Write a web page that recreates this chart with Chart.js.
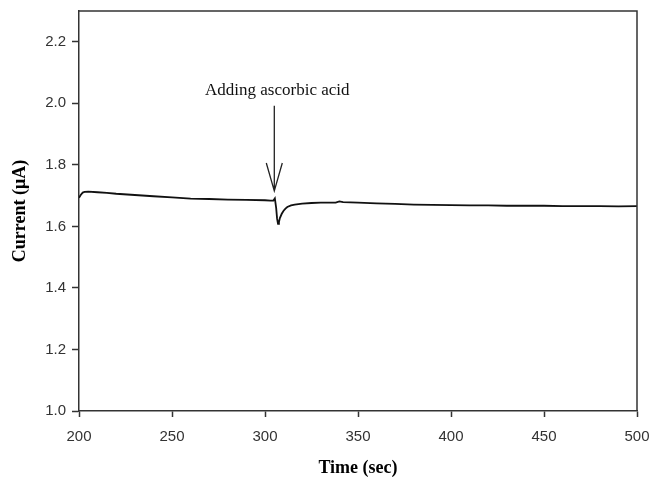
<!DOCTYPE html>
<html>
<head>
<meta charset="utf-8">
<script src="https://cdn.jsdelivr.net/npm/chart.js@4/dist/chart.umd.min.js"></script>
<style>
  html, body { margin: 0; padding: 0; background: #fff; }
  #wrap { width: 649px; height: 477px; position: relative; }
</style>
</head>
<body>
<div id="wrap"><canvas id="c" width="649" height="477"></canvas></div>
<script>
// ---- data ----
const timeSec = [200, 201, 202, 203, 205, 210, 215, 220, 230, 240, 250, 260, 270, 280, 290, 300, 303, 304.5,
  305.3, 306, 306.5, 307, 307.5, 308, 309, 310, 311, 312, 314, 316, 320, 325, 330, 335, 338, 340, 342,
  350, 360, 370, 380, 390, 400, 410, 420, 430, 440, 450, 460, 470, 480, 490, 500];
const currentUA = [1.693, 1.703, 1.710, 1.712, 1.713, 1.711, 1.709, 1.706, 1.702, 1.698, 1.694, 1.690, 1.689, 1.687, 1.686, 1.685, 1.684, 1.684,
  1.691, 1.660, 1.625, 1.608, 1.614, 1.627, 1.641, 1.651, 1.658, 1.663, 1.668, 1.671, 1.674, 1.676, 1.677, 1.677, 1.677, 1.681, 1.679,
  1.677, 1.675, 1.673, 1.671, 1.670, 1.669, 1.668, 1.668, 1.667, 1.667, 1.667, 1.666, 1.666, 1.666, 1.665, 1.666];
const xTicks = [200, 250, 300, 350, 400, 450, 500];
const yTicks = [1.0, 1.2, 1.4, 1.6, 1.8, 2.0, 2.2];
const annotationText = 'Adding ascorbic acid';
const annotationTime = 305;
const xTitle = 'Time (sec)';
const yTitle = 'Current (\u03BCA)';

const axisColor = '#333333';

const framePlugin = {
  id: 'frame',
  afterDraw(chart) {
    const {ctx, chartArea: a, scales} = chart;
    ctx.save();
    // top and right edges of the box
    ctx.strokeStyle = axisColor;
    ctx.lineWidth = 1.5;
    ctx.beginPath();
    ctx.moveTo(a.left, a.top);
    ctx.lineTo(a.right, a.top);
    ctx.lineTo(a.right, a.bottom);
    ctx.stroke();
    // annotation arrow
    const x = scales.x.getPixelForValue(annotationTime);
    const yTop = scales.y.getPixelForValue(1.992);
    const yTip = scales.y.getPixelForValue(1.715);
    ctx.strokeStyle = '#222';
    ctx.lineWidth = 1.3;
    ctx.beginPath();
    ctx.moveTo(x, yTop);
    ctx.lineTo(x, yTip);
    ctx.moveTo(x - 8, yTip - 28);
    ctx.lineTo(x, yTip);
    ctx.lineTo(x + 8, yTip - 28);
    ctx.stroke();
    // annotation text
    ctx.fillStyle = '#111';
    ctx.font = '17px "Liberation Serif", "Times New Roman", serif';
    ctx.textAlign = 'center';
    ctx.textBaseline = 'middle';
    ctx.fillText(annotationText, x + 3, scales.y.getPixelForValue(2.04));
    ctx.restore();
  }
};

new Chart(document.getElementById('c'), {
  type: 'scatter',
  data: {
    datasets: [{
      data: timeSec.map((t, i) => ({x: t, y: currentUA[i]})),
      showLine: true,
      borderColor: '#111',
      borderWidth: 1.8,
      pointRadius: 0,
      tension: 0
    }]
  },
  options: {
    responsive: false,
    animation: false,
    plugins: { legend: {display: false}, tooltip: {enabled: false} },
    layout: { padding: {top: 11, left: 0, right: 0, bottom: 0} },
    scales: {
      x: {
        type: 'linear', min: 200, max: 500,
        afterBuildTicks(s) { s.ticks = xTicks.map(v => ({value: v})); },
        afterFit(s) { s.height = 66; s.paddingLeft = 0; s.paddingRight = 12; },
        grid: { drawOnChartArea: false, drawTicks: true, tickLength: 6, tickColor: axisColor, tickWidth: 1.5 },
        border: { display: true, color: axisColor, width: 1.5 },
        ticks: { color: '#333', padding: 11, maxRotation: 0, autoSkip: false,
          font: {family: '"Liberation Sans", Arial, sans-serif', size: 15} },
        title: { display: true, text: xTitle, color: '#000', padding: {top: 0, bottom: 0},
          font: {family: '"Liberation Serif", "Times New Roman", serif', size: 18, weight: 'bold', lineHeight: 1} }
      },
      y: {
        type: 'linear', min: 1.0, max: 2.3,
        afterBuildTicks(s) { s.ticks = yTicks.map(v => ({value: v})); },
        afterFit(s) { s.width = 79; s.paddingTop = 0; s.paddingBottom = 0; },
        grid: { drawOnChartArea: false, drawTicks: true, tickLength: 7, tickColor: axisColor, tickWidth: 1.5 },
        border: { display: true, color: axisColor, width: 1.5 },
        ticks: { color: '#333', padding: 6, autoSkip: false,
          callback: v => Number(v).toFixed(1),
          font: {family: '"Liberation Sans", Arial, sans-serif', size: 15} },
        title: { display: true, text: yTitle, color: '#000', padding: {top: 11, bottom: 0},
          font: {family: '"Liberation Serif", "Times New Roman", serif', size: 18, weight: 'bold', lineHeight: 1} }
      }
    }
  },
  plugins: [framePlugin]
});
</script>
</body>
</html>
